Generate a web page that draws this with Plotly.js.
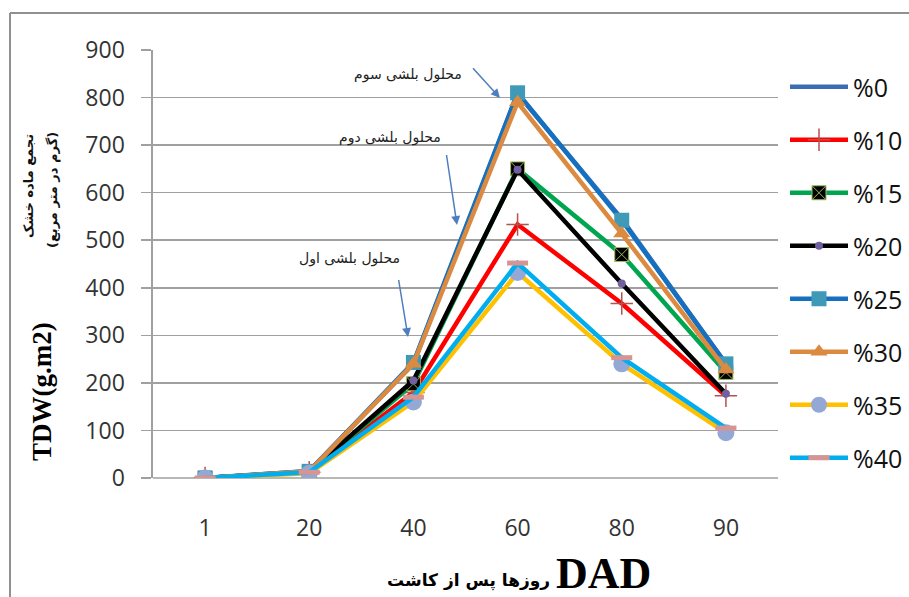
<!DOCTYPE html>
<html>
<head>
<meta charset="utf-8">
<script src="https://cdn.plot.ly/plotly-3.0.1.min.js"></script>
<style>html,body{margin:0;padding:0;background:#fff;}#chart{width:909px;height:597px;}</style>
</head>
<body>
<div id="chart"></div>
<script>
// ---- data ----
var days = ['1', '20', '40', '60', '80', '90'];
var seriesNames = ['%0', '%10', '%15', '%20', '%25', '%30', '%35', '%40'];
var s0  = [0, 15, 240, 808, 545, 240];
var s10 = [0, 12, 180, 533, 367, 173];
var s15 = [0, 13, 198, 650, 470, 222];
var s20 = [0, 13, 205, 648, 409, 177];
var s25 = [0, 14, 243, 810, 542, 240];
var s30 = [0, 14, 240, 790, 514, 228];
var s35 = [0, 10, 160, 432, 240, 95];
var s40 = [0, 12, 170, 452, 253, 105];
var yTicks = [0, 100, 200, 300, 400, 500, 600, 700, 800, 900];

// ---- layout helpers ----
var L = 153, R = 778, T = 50, B = 478;
function px(x){ return (x - L) / (R - L); }
function py(y){ return (B - y) / (B - T); }

var styles = [
  {line:'#3C6DB4', marker:{size:1, color:'rgba(0,0,0,0)'}, mode:'lines'},
  {line:'#FF0000', marker:{symbol:'cross-thin', size:16, color:'#B5524E', line:{color:'#B5524E', width:1.5}}},
  {line:'#00A550', marker:{symbol:'square-x', size:14, color:'#000000', line:{color:'#9BBB59', width:1}}},
  {line:'#000000', marker:{symbol:'circle', size:8, color:'#7060A0'}},
  {line:'#1570BF', marker:{symbol:'square', size:15, color:'#3E9AB6'}},
  {line:'#DC8A40', marker:{symbol:'triangle-up', size:15, color:'#DC8A40'}},
  {line:'#FFC000', marker:{symbol:'circle', size:17, color:'#94A8D6'}},
  {line:'#00AEEF', marker:{symbol:'line-ew', size:15, color:'#D69593', line:{color:'#D69593', width:5}}}
];
var values = [s0, s10, s15, s20, s25, s30, s35, s40];

var traces = values.map(function(v, i){
  var st = styles[i];
  return {
    x: days, y: v, name: seriesNames[i], type: 'scatter',
    mode: st.mode || 'lines+markers',
    line: {color: st.line, width: 4.5},
    marker: st.marker,
    legendgroup: 'g' + i
  };
});

var arFont = 'DejaVu Sans, Noto Sans, sans-serif';
function ann(o){ o.xref='paper'; o.yref='paper'; o.xanchor = o.xanchor || 'center'; o.yanchor = o.yanchor || 'middle'; return o; }
var annotations = [
  ann({text: 'محلول بلشی سوم', x: px(408), y: py(74), showarrow:false, font:{family:arFont, size:14, color:'#222'}}),
  ann({text: 'محلول بلشی دوم', x: px(390), y: py(137), showarrow:false, font:{family:arFont, size:14, color:'#222'}}),
  ann({text: 'محلول بلشی اول', x: px(349), y: py(258), showarrow:false, font:{family:arFont, size:14, color:'#222'}}),
  ann({text: ' ', x: px(500), y: py(98), showarrow:true, ax:-30, ay:-33, arrowhead:2, arrowsize:1.2, arrowwidth:1.5, arrowcolor:'#4F7EBD', standoff:0}),
  ann({text: ' ', x: px(457), y: py(225), showarrow:true, ax:-12, ay:-80, arrowhead:2, arrowsize:1.2, arrowwidth:1.5, arrowcolor:'#4F7EBD', standoff:0}),
  ann({text: ' ', x: px(408), y: py(337), showarrow:true, ax:-11, ay:-67, arrowhead:2, arrowsize:1.2, arrowwidth:1.5, arrowcolor:'#4F7EBD', standoff:0}),
  // y axis titles
  ann({text: '<b>تجمع ماده خشک</b>', x: px(28), y: py(186), showarrow:false, textangle:-90, font:{family:arFont, size:13, color:'#111'}}),
  ann({text: '<b>(گرم در متر مربع)</b>', x: px(53), y: py(190), showarrow:false, textangle:-90, font:{family:arFont, size:13, color:'#111'}}),
  ann({text: '<b>TDW(g.m2)</b>', x: px(42), y: py(392), showarrow:false, textangle:-90, font:{family:'Liberation Serif, serif', size:27, color:'#000'}}),
  // x axis titles
  ann({text: '<b>DAD</b>', x: px(603), y: py(573), showarrow:false, font:{family:'Liberation Serif, serif', size:44, color:'#000'}}),
  ann({text: '<b>روزها پس از کاشت</b>', x: px(468), y: py(580), showarrow:false, font:{family:arFont, size:17, color:'#000'}})
];

var layout = {
  width: 909, height: 597,
  margin: {l: L, r: 909 - R, t: T, b: 597 - B, pad: 0, autoexpand: false},
  paper_bgcolor: '#ffffff', plot_bgcolor: '#ffffff',
  showlegend: true,
  legend: {
    x: px(785), y: py(64), xanchor: 'left', yanchor: 'top',
    font: {family: 'Open Sans, sans-serif', size: 25, color: '#111'},
    itemwidth: 58, tracegroupgap: 17.5, bgcolor: 'rgba(0,0,0,0)'
  },
  xaxis: {
    type: 'category', categoryarray: days, range: [-0.5, 5.5],
    showgrid: false, zeroline: false, showline: false,
    ticks: 'outside', ticklen: 29, tickcolor: 'rgba(0,0,0,0)',
    tickfont: {family: 'Open Sans, sans-serif', size: 23, color: '#333'},
    fixedrange: true
  },
  yaxis: {
    range: [0, 900], tickvals: yTicks, ticktext: yTicks.map(String),
    showgrid: true, gridcolor: '#A0A0A0', gridwidth: 1.6,
    zeroline: false, showline: true, linecolor: '#A0A0A0', linewidth: 1.6,
    ticks: 'outside', ticklen: 10, tickcolor: '#A0A0A0', tickwidth: 1.6,
    ticklabelstandoff: 12,
    tickfont: {family: 'Open Sans, sans-serif', size: 23, color: '#333'},
    fixedrange: true
  },
  shapes: [
    {type:'line', xref:'paper', yref:'paper', x0: 0, x1: 1, y0: 0, y1: 0, line:{color:'#A0A0A0', width:1.6}, layer:'below'},
    {type:'line', xref:'paper', yref:'paper', x0: px(10), x1: px(10), y0: py(13), y1: py(620), line:{color:'#909090', width:2}},
    {type:'line', xref:'paper', yref:'paper', x0: px(10), x1: px(930), y0: py(13), y1: py(13), line:{color:'#909090', width:2}}
  ],
  annotations: annotations
};

Plotly.newPlot('chart', traces, layout, {displayModeBar: false, staticPlot: true});
</script>
</body>
</html>
